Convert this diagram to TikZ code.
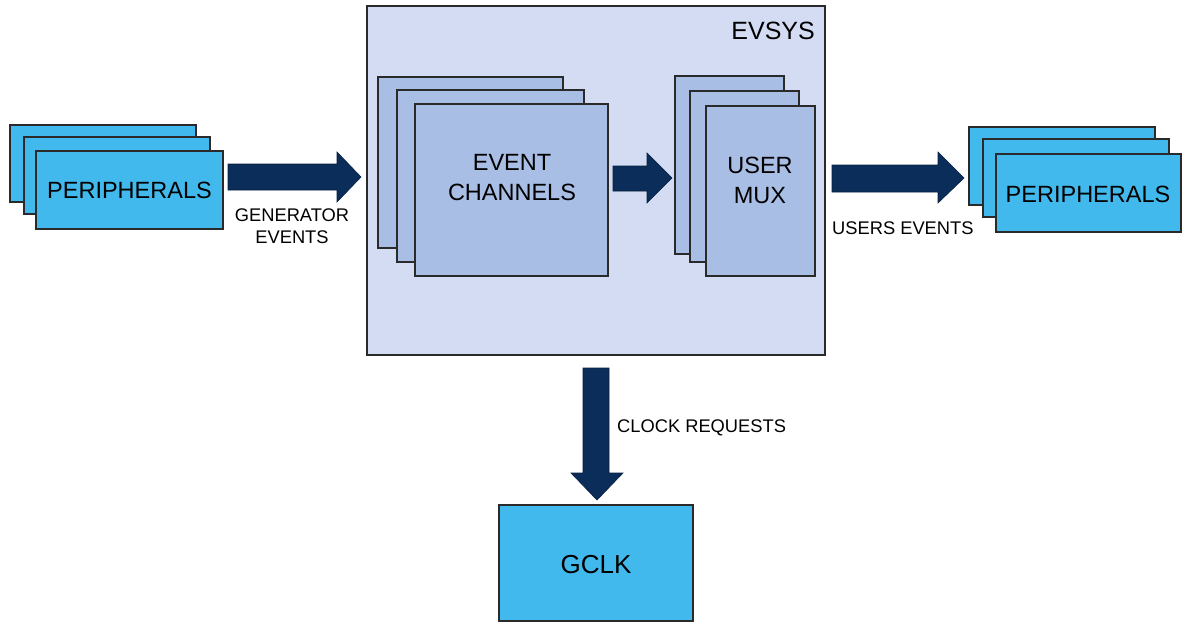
\documentclass[tikz,border=0pt]{standalone}
\usepackage{fontspec}
\setmainfont{Liberation Sans}
\definecolor{perif}{HTML}{41B9EC}
\definecolor{evbg}{HTML}{D4DCF3}
\definecolor{inner}{HTML}{A9BEE4}
\definecolor{navy}{HTML}{0B2D5A}
\definecolor{edge}{HTML}{2A2A2A}
\begin{document}
\begin{tikzpicture}[x=1pt,y=-1pt,
  box/.style={draw=edge,line width=1.4pt,inner sep=0pt,outer sep=0pt,anchor=north west},
  pbox/.style={box,fill=perif},
  ibox/.style={box,fill=inner},
  bigtxt/.style={font=\fontsize{23.5}{30}\selectfont,align=center,inner sep=0pt},
  smalltxt/.style={font=\fontsize{18.3}{22}\selectfont,align=center,inner sep=0pt},
  blockarrow/.style={fill=navy,draw=navy!70!black,line width=0.6pt}]
\useasboundingbox (0,0) rectangle (1183,622);

% EVSYS container
\node[box,fill=evbg,line width=1.8pt,minimum width=458pt,minimum height=349pt] (evsys) at (367,6) {};
\node[font=\fontsize{25}{30}\selectfont,anchor=east,inner sep=0pt] (evsyst) at (815,31) {EVSYS};

% left peripherals
\node[pbox,minimum width=186pt,minimum height=77pt] (pl3) at (10,125) {};
\node[pbox,minimum width=186pt,minimum height=77pt] (pl2) at (24,137) {};
\node[pbox,minimum width=187pt,minimum height=78pt] (pl1) at (36,151) {};
\node[bigtxt] (plt) at (pl1.center) {PERIPHERALS};

% event channels
\node[ibox,minimum width=185pt,minimum height=171pt] (ec3) at (378,77) {};
\node[ibox,minimum width=187pt,minimum height=172pt] (ec2) at (397,90) {};
\node[ibox,minimum width=193pt,minimum height=172pt] (ec1) at (415,104) {};
\node[bigtxt] (ect) at (512,178) {EVENT\\CHANNELS};

% user mux
\node[ibox,minimum width=109pt,minimum height=178pt] (um3) at (675,76) {};
\node[ibox,minimum width=109pt,minimum height=171pt] (um2) at (690,91) {};
\node[ibox,minimum width=109pt,minimum height=170pt] (um1) at (706,106) {};
\node[bigtxt] (umt) at (760,180) {USER\\MUX};

% right peripherals
\node[pbox,minimum width=186pt,minimum height=78pt] (pr3) at (969,127) {};
\node[pbox,minimum width=186pt,minimum height=78pt] (pr2) at (983,139) {};
\node[pbox,minimum width=185pt,minimum height=78pt] (pr1) at (996,154) {};
\node[bigtxt] (prt) at (1088,194) {PERIPHERALS};

% GCLK
\node[pbox,minimum width=194pt,minimum height=116pt] (gclk) at (499,505) {};
\node[font=\fontsize{26}{30}\selectfont,inner sep=0pt] (gclkt) at (596,565) {GCLK};

% block arrows
\draw[blockarrow] (228,164) -- (337,164) -- (337,152) -- (361,177) -- (337,202) -- (337,190) -- (228,190) -- cycle;
\draw[blockarrow] (613,166) -- (647,166) -- (647,153) -- (672,178) -- (647,203) -- (647,191) -- (613,191) -- cycle;
\draw[blockarrow] (832,165) -- (938,165) -- (938,152) -- (964,178) -- (938,203) -- (938,192) -- (832,192) -- cycle;
\draw[blockarrow] (583,368) -- (609,368) -- (609,473) -- (623,473) -- (597,500) -- (571,473) -- (583,473) -- cycle;

% labels
\node[smalltxt] (genl) at (292,226) {GENERATOR\\EVENTS};
\node[smalltxt,anchor=west] (usel) at (832,228) {USERS EVENTS};
\node[smalltxt,anchor=west] (clkl) at (617,428) {CLOCK REQUESTS};
\end{tikzpicture}
\end{document}
